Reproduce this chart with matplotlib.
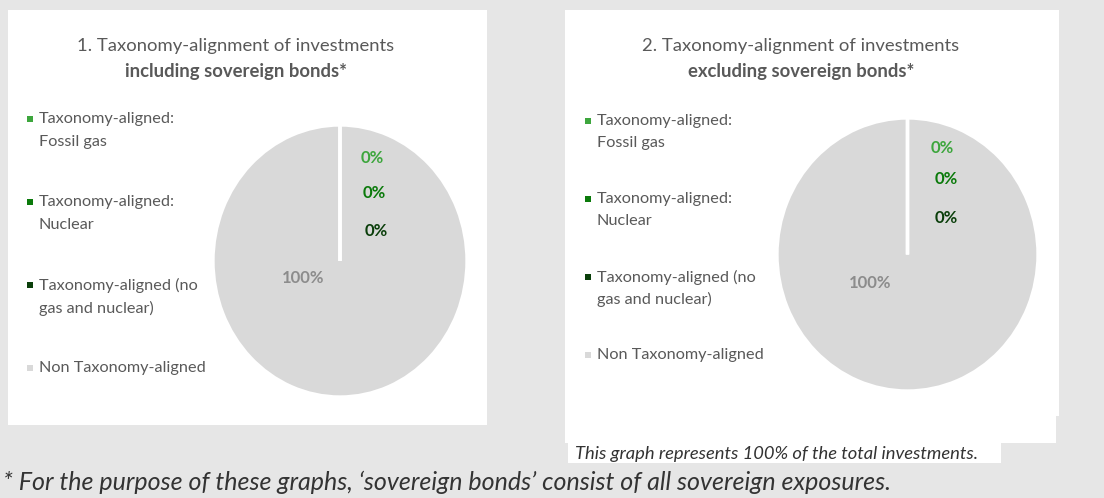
import matplotlib
matplotlib.use("Agg")
import matplotlib.pyplot as plt
from matplotlib.patches import Rectangle

plt.rcParams['font.family'] = ['Lato', 'DejaVu Sans']

# data
categories = ["Taxonomy-aligned:\nFossil gas",
              "Taxonomy-aligned:\nNuclear",
              "Taxonomy-aligned (no\ngas and nuclear)",
              "Non Taxonomy-aligned"]
incl_values = [0, 0, 0, 100]
excl_values = [0, 0, 0, 100]
titles = ["1. Taxonomy-alignment of investments",
          "2. Taxonomy-alignment of investments"]
subtitles = ["including sovereign bonds*", "excluding sovereign bonds*"]
colors = ["#3da63d", "#0b7a0b", "#0b3f0b", "#d9d9d9"]
label_colors = ["#3da63d", "#0b7a0b", "#0b3f0b", "#8c8c8c"]

W, H = 1104, 498
fig = plt.figure(figsize=(W / 100, H / 100), dpi=100)
fig.patch.set_facecolor("#e6e6e6")

def box(x0, y0, x1, y1, color="white", z=0):
    # pixel coords, y from top
    fig.add_artist(Rectangle((x0 / W, 1 - y1 / H), (x1 - x0) / W, (y1 - y0) / H,
                             transform=fig.transFigure, color=color, lw=0, zorder=z))

# white panels
box(8, 10, 487, 425)
box(565, 10, 1059, 416)
box(565, 416, 1056, 443)
box(568, 443, 1001, 463)

# panel settings (pixel positions)
panels = [
    dict(values=incl_values, title_x=236, pie=(213, 125, 467, 397), legend_x=30,
         legend_y=119, lab=[(0.16, 0.76), (0.18, 0.50), (0.19, 0.22), (-0.29, -0.125)]),
    dict(values=excl_values, title_x=801, pie=(777, 118, 1038, 391), legend_x=588,
         legend_y=121, lab=[(0.175, 0.78), (0.21, 0.55), (0.205, 0.27), (-0.29, -0.21)]),
]
spacing = [83, 78]

for p, (panel, sub) in enumerate(zip(panels, subtitles)):
    fig.text(panel["title_x"] / W, 1 - 46 / H, titles[p], ha="center", va="center",
             fontsize=13.3, color="#595959")
    fig.text(panel["title_x"] / W, 1 - 71 / H, sub, ha="center", va="center",
             fontsize=13.3, color="#595959", fontweight="bold")

    x0, y0, x1, y1 = panel["pie"]
    ax = fig.add_axes([x0 / W, 1 - y1 / H, (x1 - x0) / W, (y1 - y0) / H])
    wedges, _ = ax.pie(panel["values"], colors=colors, startangle=90, counterclock=False,
                       wedgeprops=dict(edgecolor="white", linewidth=2.4))
    # keep the thin slices' white borders on top of the full slice
    for w, v in zip(wedges, panel["values"]):
        if v == 0:
            w.set_zorder(3)
    ax.set_aspect("auto")
    ax.set_xlim(-1, 1)
    ax.set_ylim(-1, 1)
    ax.axis("off")
    for i, v in enumerate(panel["values"]):
        lx, ly = panel["lab"][i]
        ax.text(lx, ly, "%d%%" % v, ha="left" if i < 3 else "center", va="center",
                fontsize=12, fontweight="bold", color=label_colors[i], zorder=5)

    # legend
    for i, cat in enumerate(categories):
        ty = panel["legend_y"] + i * spacing[p]
        box(panel["legend_x"] - 3, ty - 3, panel["legend_x"] + 3, ty + 3, color=colors[i], z=2)
        fig.text((panel["legend_x"] + 9) / W, 1 - ty / H, cat.split("\n")[0], ha="left",
                 va="center", fontsize=11.7, color="#595959")
        if "\n" in cat:
            fig.text((panel["legend_x"] + 9) / W, 1 - (ty + 23 - p) / H, cat.split("\n")[1],
                     ha="left", va="center", fontsize=11.7, color="#595959")

fig.text(575 / W, 1 - 454 / H, "This graph represents 100% of the total investments.",
         ha="left", va="center", fontsize=13.2, style="italic", color="#333333")
fig.text(3 / W, 1 - 482 / H,
         "* For the purpose of these graphs, \u2018sovereign bonds\u2019 consist of all sovereign exposures.",
         ha="left", va="center", fontsize=18, style="italic", color="#333333")

fig.savefig("out.png", dpi=100, facecolor=fig.get_facecolor())
